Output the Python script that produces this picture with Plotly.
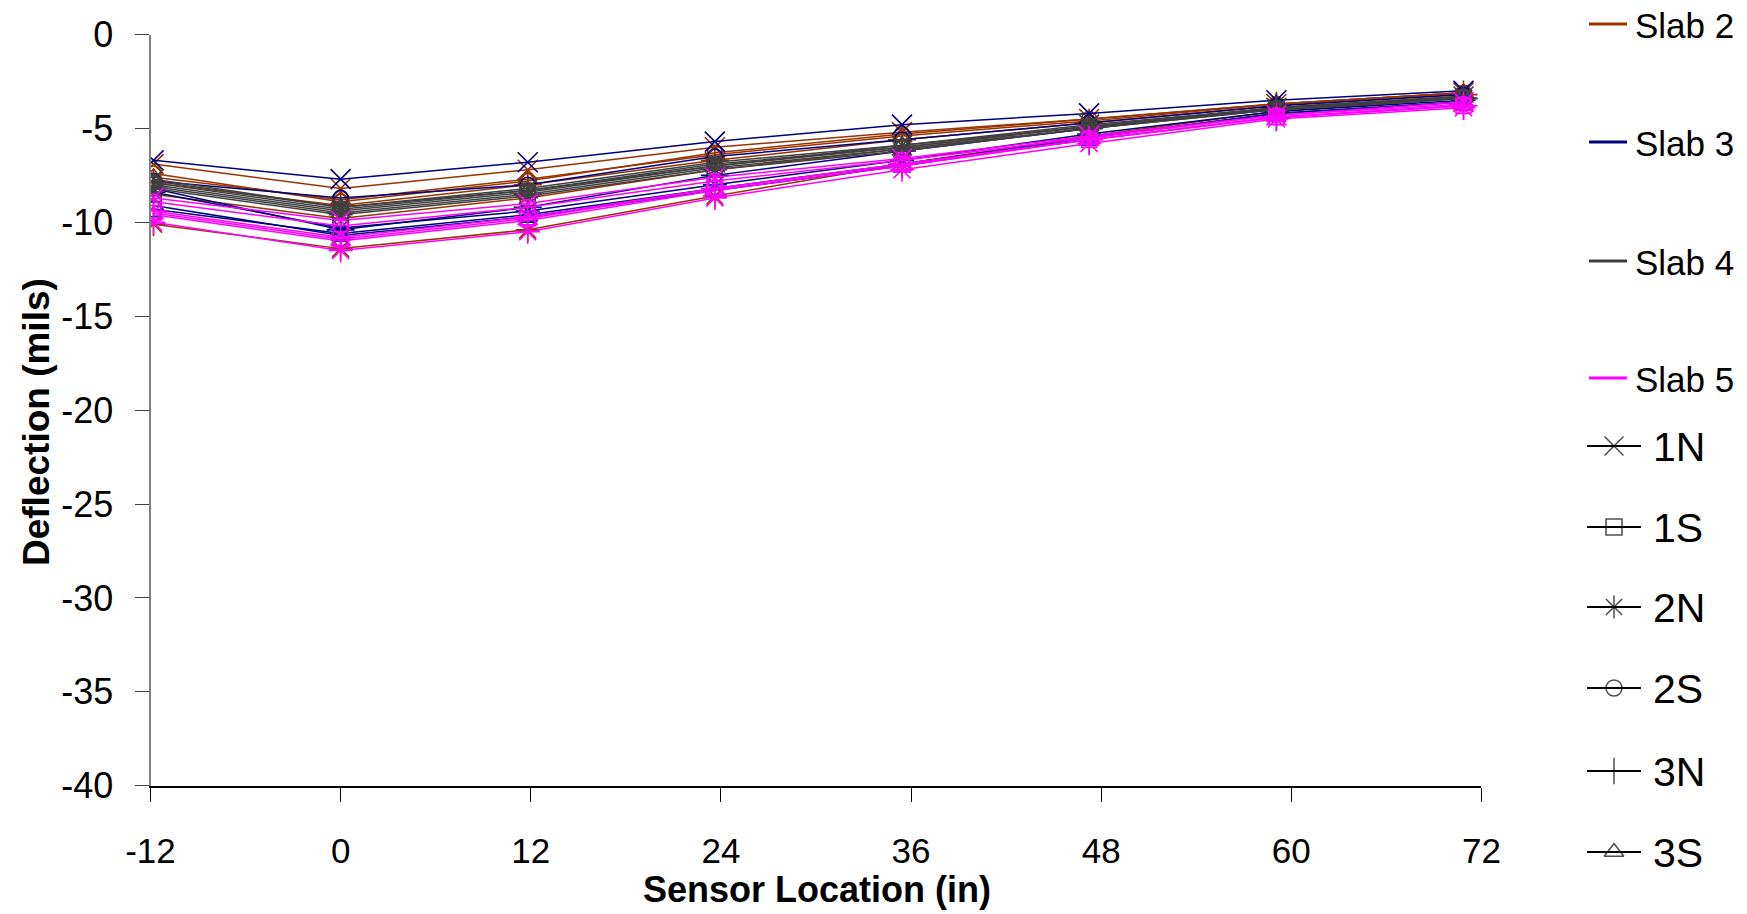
import plotly.graph_objects as go

# ---------------- data ----------------
sensor_x = [-11.81, 0, 11.81, 23.62, 35.43, 47.24, 59.06, 70.87]
x_ticks = [-12, 0, 12, 24, 36, 48, 60, 72]
y_ticks = [0, -5, -10, -15, -20, -25, -30, -35, -40]

sensors = ["1N", "1S", "2N", "2S", "3N", "3S"]
slabs = ["Slab 2", "Slab 3", "Slab 4", "Slab 5"]

# deflection (mils) per sensor line, order: 1N, 1S, 2N, 2S, 3N, 3S
slab2 = [
    [-6.9, -8.2, -7.2, -6.0, -5.2, -4.5, -3.7, -3.1],
    [-8.5, -9.8, -8.7, -7.2, -6.1, -5.0, -3.9, -3.3],
    [-10.1, -11.4, -10.4, -8.6, -6.9, -5.4, -4.1, -3.4],
    [-7.4, -8.9, -7.8, -6.3, -5.3, -4.5, -3.7, -3.1],
    [-7.9, -9.1, -8.0, -6.7, -5.6, -4.7, -3.8, -3.2],
    [-7.6, -8.8, -7.7, -6.4, -5.4, -4.6, -3.7, -3.1],
]
slab3 = [
    [-6.7, -7.7, -6.8, -5.7, -4.8, -4.2, -3.5, -3.0],
    [-9.3, -10.6, -9.6, -8.2, -6.9, -5.5, -4.2, -3.6],
    [-8.4, -10.3, -9.4, -8.0, -6.7, -5.3, -4.1, -3.5],
    [-7.8, -8.7, -8.0, -6.5, -5.6, -4.7, -3.8, -3.2],
    [-8.2, -10.4, -9.2, -7.5, -6.2, -5.0, -3.9, -3.4],
    [-9.1, -10.7, -9.7, -8.3, -7.0, -5.5, -4.2, -3.6],
]
slab4 = [
    [-7.7, -9.2, -8.2, -6.8, -5.9, -4.8, -3.9, -3.3],
    [-8.0, -9.4, -8.4, -7.0, -6.0, -4.9, -4.0, -3.4],
    [-8.2, -9.6, -8.6, -7.2, -6.2, -5.0, -4.0, -3.4],
    [-7.9, -9.3, -8.3, -6.9, -6.0, -4.9, -3.9, -3.3],
    [-8.1, -9.5, -8.5, -7.1, -6.1, -5.0, -4.0, -3.4],
    [-7.8, -9.2, -8.3, -7.0, -5.9, -4.9, -3.9, -3.3],
]
slab5 = [
    [-8.7, -9.9, -9.0, -7.6, -6.6, -5.4, -4.3, -3.6],
    [-9.5, -10.9, -9.8, -8.2, -6.9, -5.6, -4.4, -3.8],
    [-10.0, -11.5, -10.5, -8.7, -7.2, -5.8, -4.5, -3.9],
    [-8.9, -10.2, -9.2, -7.8, -6.7, -5.5, -4.3, -3.7],
    [-9.4, -10.8, -9.7, -8.2, -6.9, -5.6, -4.4, -3.8],
    [-9.6, -11.0, -9.9, -8.3, -7.0, -5.6, -4.4, -3.8],
]

# ---------------- styles ----------------
W, H = 1747, 914
slab_colors = ["#993300", "#000080", "#404040", "#FF00FF"]
sensor_symbols = ["x-thin-open", "square-open", "asterisk-open",
                  "circle-open", "cross-thin-open", "triangle-up-open"]
sensor_sizes = [20, 15, 20, 15, 20, 17]
FONT = "Liberation Sans, Arial, sans-serif"
NARROW = "Liberation Sans Narrow, Arial Narrow, Liberation Sans, sans-serif"

fig = go.Figure()
for slab_vals, color in zip([slab2, slab3, slab4, slab5], slab_colors):
    for yvals, sym, sz, name in zip(slab_vals, sensor_symbols, sensor_sizes, sensors):
        fig.add_trace(go.Scatter(
            x=sensor_x, y=yvals, mode="lines+markers", name=name,
            line=dict(color=color, width=1.5),
            marker=dict(symbol=sym, size=sz, color=color,
                        line=dict(color=color, width=1.6)),
            showlegend=False, xaxis="x", yaxis="y"))

# ---------------- custom legend (pixel layout) ----------------
slab_leg_y = [24, 142, 261, 378]
sensor_leg_y = [446, 527, 607, 688, 771, 852]
legend_sizes = [19, 16, 19, 16, 19, 17]
shapes = []
annotations = []
for lab, color, yy in zip(slabs, slab_colors, slab_leg_y):
    shapes.append(dict(type="line", xref="x2", yref="y2", x0=1589, x1=1627,
                       y0=yy, y1=yy, line=dict(color=color, width=3)))
    annotations.append(dict(text=lab, xref="x2", yref="y2", x=1633, y=yy + 1,
                            xanchor="left", yanchor="middle", showarrow=False,
                            font=dict(family=NARROW, size=35, color="black")))
for lab, sym, yy in zip(sensors, sensor_symbols, sensor_leg_y):
    shapes.append(dict(type="line", xref="x2", yref="y2", x0=1587, x1=1641,
                       y0=yy, y1=yy, line=dict(color="black", width=2)))
    annotations.append(dict(text=lab, xref="x2", yref="y2", x=1651, y=yy + 1,
                            xanchor="left", yanchor="middle", showarrow=False,
                            font=dict(family=NARROW, size=41, color="black")))
fig.add_trace(go.Scatter(
    x=[1614] * len(sensors), y=sensor_leg_y, mode="markers",
    marker=dict(symbol=sensor_symbols, size=legend_sizes, color="black",
                line=dict(color="black", width=1.5)),
    showlegend=False, hoverinfo="skip", xaxis="x2", yaxis="y2"))

# axis titles
annotations.append(dict(text="<b>Sensor Location (in)</b>", xref="paper", yref="paper",
                        x=817 / W, y=1 - 889 / H, xanchor="center", yanchor="middle",
                        showarrow=False, font=dict(family=FONT, size=36, color="black")))
annotations.append(dict(text="<b>Deflection (mils)</b>", xref="paper", yref="paper",
                        x=36 / W, y=1 - 422 / H, xanchor="center", yanchor="middle",
                        textangle=-90, showarrow=False,
                        font=dict(family=FONT, size=37, color="black")))

x0p, x1p = 150.5, 1481.4
y0p, y1p = 34.5, 785.8

fig.update_layout(
    width=W, height=H,
    margin=dict(l=0, r=0, t=0, b=0, pad=0, autoexpand=False),
    paper_bgcolor="white", plot_bgcolor="rgba(0,0,0,0)",
    showlegend=False,
    xaxis=dict(domain=[x0p / W, x1p / W], range=[-12, 72], tickmode="array",
               tickvals=x_ticks, ticktext=[str(v) for v in x_ticks],
               showgrid=False, zeroline=False, showline=True, linecolor="black",
               linewidth=1.5, ticks="outside", ticklen=14, tickwidth=1,
               tickcolor="black", ticklabelstandoff=19, automargin=False,
               tickfont=dict(family=FONT, size=35, color="black"),
               anchor="y", fixedrange=True),
    yaxis=dict(domain=[1 - y1p / H, 1 - y0p / H], range=[-40, 0], tickmode="array",
               tickvals=y_ticks, ticktext=[str(v) for v in y_ticks],
               showgrid=False, zeroline=False, showline=True, linecolor="#808080",
               linewidth=2, ticks="outside", ticklen=14, tickwidth=1,
               tickcolor="#404040", ticklabelstandoff=14, automargin=False,
               tickfont=dict(family=FONT, size=36, color="black"),
               anchor="x", fixedrange=True),
    xaxis2=dict(domain=[0, 1], range=[0, W], visible=False, anchor="y2",
                fixedrange=True, automargin=False),
    yaxis2=dict(domain=[0, 1], range=[H, 0], visible=False, anchor="x2",
                fixedrange=True, automargin=False),
    shapes=shapes,
    annotations=annotations,
)

fig.write_html("out.html")
